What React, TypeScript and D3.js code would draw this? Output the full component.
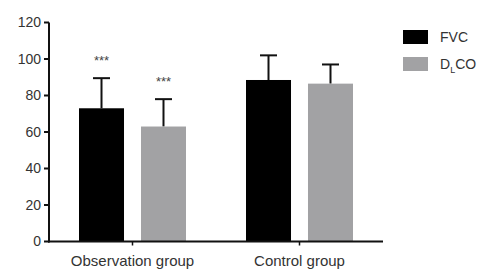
import * as d3 from "d3";

const groups = ["Observation group", "Control group"];
const seriesNames = ["FVC", "DLCO"];
const fvcMeans = [73, 88.5];
const fvcUpper = [89.5, 102];
const dlcoMeans = [63, 86.5];
const dlcoUpper = [78, 97];
const stars = ["***", ""];
const yTicks = [0, 20, 40, 60, 80, 100, 120];

const colors = ["#000000", "#a2a2a4"];

export default function App() {
  const width = 489;
  const height = 269;
  const x0 = 49;
  const x1 = 383;
  const yTop = 22.5;
  const yBottom = 241.5;

  const x = d3.scaleBand().domain(groups).range([x0, x1]);
  const xInner = d3.scaleBand().domain(seriesNames).range([-53.5, 53.5]).paddingInner(0.274);
  const y = d3.scaleLinear().domain([0, 120]).range([yBottom, yTop]);

  const series = [
    { name: "FVC", means: fvcMeans, upper: fvcUpper, stars },
    { name: "DLCO", means: dlcoMeans, upper: dlcoUpper, stars },
  ];
  const font = "Liberation Sans, Arial, sans-serif";
  const textColor = "#333";

  return (
    <svg width={width} height={height} style={{ position: "absolute", left: 0, top: 0, background: "#fff" }} fontFamily={font}>
      {series.map((s, si) =>
        groups.map((g, gi) => {
          const cx = (x(g) ?? 0) + x.bandwidth() / 2;
          const bx = cx + (xInner(s.name) ?? 0);
          const bw = xInner.bandwidth();
          const mid = bx + bw / 2;
          return (
            <g key={`${si}-${gi}`}>
              <line x1={mid} x2={mid} y1={y(s.means[gi])} y2={y(s.upper[gi])} stroke="#111" strokeWidth={2} />
              <line x1={mid - 8.5} x2={mid + 8.5} y1={y(s.upper[gi])} y2={y(s.upper[gi])} stroke="#111" strokeWidth={2} />
              <rect x={bx} y={y(s.means[gi])} width={bw} height={yBottom - y(s.means[gi])} fill={colors[si]} />
              {s.stars[gi] && (
                <text x={mid} y={y(s.upper[gi]) - 13} textAnchor="middle" fontSize={13} fill="#444">
                  {s.stars[gi]}
                </text>
              )}
            </g>
          );
        })
      )}
      {/* y axis */}
      <line x1={x0} x2={x0} y1={yTop} y2={yBottom + 1} stroke="#111" strokeWidth={2} />
      {yTicks.map((t) => (
        <g key={t}>
          <line x1={x0 - 5} x2={x0} y1={y(t)} y2={y(t)} stroke="#111" strokeWidth={2} />
          <text x={x0 - 8} y={y(t)} dy="0.35em" textAnchor="end" fontSize={14} fill={textColor}>
            {t}
          </text>
        </g>
      ))}
      {/* x axis */}
      <line x1={x0 - 1} x2={x1} y1={yBottom} y2={yBottom} stroke="#111" strokeWidth={2} />
      {groups.map((g) => {
        const cx = (x(g) ?? 0) + x.bandwidth() / 2;
        return (
          <g key={g}>
            <line x1={cx} x2={cx} y1={yBottom} y2={yBottom + 4} stroke="#111" strokeWidth={1.5} />
            <text x={cx} y={yBottom + 24} textAnchor="middle" fontSize={15} fill={textColor}>
              {g}
            </text>
          </g>
        );
      })}
      {/* legend */}
      <g>
        <rect x={403} y={30} width={25} height={14} fill={colors[0]} />
        <text x={440} y={37} dy="0.35em" fontSize={14} fill={textColor}>FVC</text>
        <rect x={403} y={57} width={25} height={14} fill={colors[1]} />
        <text x={440} y={64} dy="0.35em" fontSize={14} fill={textColor}>
          D<tspan fontSize={9} dy="4">L</tspan><tspan dy="-4">CO</tspan>
        </text>
      </g>
    </svg>
  );
}
